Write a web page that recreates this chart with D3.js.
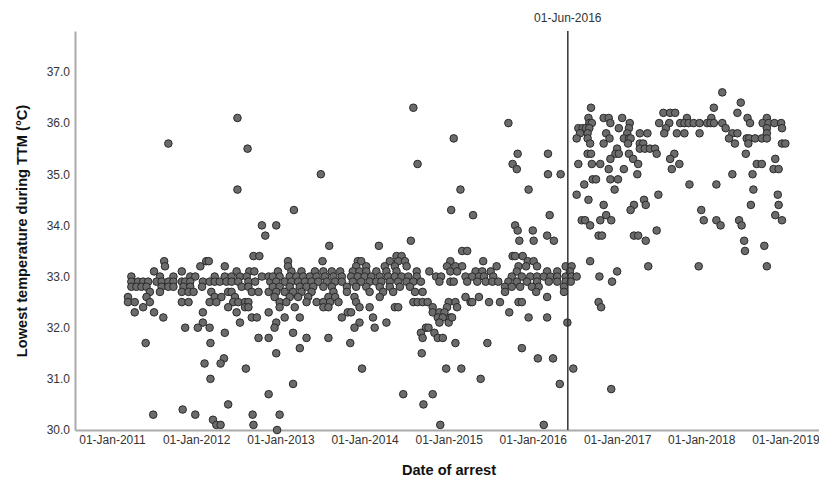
<!DOCTYPE html>
<html>
<head>
<meta charset="utf-8">
<script src="https://cdn.jsdelivr.net/npm/d3@7/dist/d3.min.js"></script>
<style>
  body { margin: 0; background: #fff; }
  svg { display: block; font-family: "Liberation Sans", Arial, sans-serif; }
  .tick-label { fill: #333; font-size: 12px; }
  .axis-title { fill: #111; font-size: 14.6px; font-weight: bold; }
</style>
</head>
<body>
<svg id="chart" width="819" height="480"></svg>
<script>
// each row: [lowest temperature °C, [dates of arrest as decimal years]]
var arrests2011to2012 = [
  [36.1, [2012.49]],
  [35.6, [2011.67]],
  [35.5, [2012.61]],
  [34.7, [2012.49]],
  [34.0, [2012.78]],
  [33.8, [2012.82]],
  [33.4, [2012.68, 2012.75]],
  [33.3, [2011.62, 2012.12, 2012.15]],
  [33.2, [2011.63, 2012.05, 2012.34]],
  [33.1, [2011.50, 2011.83, 2012.48, 2012.63, 2012.69]],
  [33.0, [2011.23, 2011.57, 2011.73, 2011.93, 2011.99, 2012.22, 2012.34, 2012.42, 2012.52, 2012.60, 2012.78, 2012.86]],
  [32.9, [2011.23, 2011.31, 2011.37, 2011.43, 2011.53, 2011.59, 2011.67, 2011.73, 2011.83, 2011.87, 2011.93, 2012.08, 2012.16, 2012.22, 2012.28, 2012.36, 2012.42, 2012.50, 2012.62, 2012.70, 2012.88]],
  [32.8, [2011.23, 2011.29, 2011.35, 2011.41, 2011.59, 2011.67, 2011.73, 2011.85, 2011.93, 2012.07, 2012.54, 2012.62]],
  [32.7, [2011.45, 2011.57, 2011.83, 2011.91, 2011.97, 2012.18, 2012.38, 2012.42, 2012.66, 2012.74, 2012.86]],
  [32.6, [2011.19, 2011.41, 2012.22, 2012.30, 2012.46]],
  [32.5, [2011.19, 2011.27, 2011.45, 2011.83, 2011.91, 2012.16, 2012.24, 2012.44, 2012.50, 2012.58, 2012.62]],
  [32.4, [2011.37, 2012.38, 2012.58, 2012.62]],
  [32.3, [2011.27, 2011.50, 2012.08, 2012.48, 2012.86]],
  [32.2, [2011.61, 2012.66, 2012.72]],
  [32.1, [2012.08, 2012.52]],
  [32.0, [2011.87, 2012.02, 2012.16]],
  [31.9, [2012.34]],
  [31.8, [2012.74, 2012.86]],
  [31.7, [2011.40, 2012.17]],
  [31.4, [2012.33]],
  [31.3, [2012.10, 2012.29]],
  [31.2, [2012.59]],
  [31.0, [2012.17]],
  [30.7, [2012.86]],
  [30.5, [2012.38]],
  [30.4, [2011.84]],
  [30.3, [2011.49, 2011.99, 2012.67]],
  [30.2, [2012.20]],
  [30.1, [2012.24, 2012.29, 2012.68]]
];

var arrests2013to2014 = [
  [36.3, [2014.58]],
  [35.2, [2014.63]],
  [35.0, [2013.48]],
  [34.3, [2013.16, 2015.03]],
  [34.0, [2012.95]],
  [33.7, [2014.55]],
  [33.6, [2013.58, 2014.17]],
  [33.4, [2014.38, 2014.44]],
  [33.3, [2013.09, 2013.50, 2013.92, 2013.96, 2014.30, 2014.40, 2014.48, 2015.02]],
  [33.2, [2013.09, 2013.90, 2014.02, 2014.24, 2014.36, 2014.50, 2014.98]],
  [33.1, [2012.97, 2013.13, 2013.25, 2013.41, 2013.51, 2013.61, 2013.71, 2013.86, 2013.94, 2014.02, 2014.14, 2014.26, 2014.38, 2014.62, 2014.77, 2015.02]],
  [33.0, [2012.91, 2012.99, 2013.11, 2013.19, 2013.27, 2013.35, 2013.43, 2013.53, 2013.63, 2013.73, 2013.84, 2013.92, 2014.00, 2014.08, 2014.18, 2014.28, 2014.36, 2014.44, 2014.52, 2014.62, 2014.85, 2014.91]],
  [32.9, [2012.95, 2013.05, 2013.13, 2013.21, 2013.29, 2013.37, 2013.45, 2013.55, 2013.65, 2013.73, 2013.86, 2013.96, 2014.06, 2014.14, 2014.20, 2014.30, 2014.40, 2014.50, 2014.58, 2014.67, 2014.89, 2015.02]],
  [32.8, [2012.91, 2012.99, 2013.11, 2013.23, 2013.31, 2013.39, 2013.51, 2013.61, 2013.79, 2013.90, 2014.02, 2014.18, 2014.30, 2014.42, 2014.54]],
  [32.7, [2012.95, 2013.05, 2013.15, 2013.25, 2013.37, 2013.63, 2013.79, 2014.06, 2014.22, 2014.34, 2014.60, 2014.69]],
  [32.6, [2012.93, 2013.11, 2013.21, 2013.33, 2013.57, 2013.65, 2013.88, 2014.18]],
  [32.5, [2012.99, 2013.07, 2013.31, 2013.43, 2013.51, 2013.59, 2013.69, 2013.90, 2014.58, 2014.63, 2014.69, 2014.75, 2015.00]],
  [32.4, [2012.99, 2013.17, 2013.51, 2013.57, 2013.94, 2014.06, 2014.36, 2014.40, 2014.81, 2014.98]],
  [32.3, [2013.80, 2013.84, 2014.81, 2014.89, 2014.95]],
  [32.2, [2013.05, 2013.23, 2013.73, 2014.10, 2014.87, 2014.93, 2015.02]],
  [32.1, [2012.95, 2013.94, 2014.26, 2014.89, 2015.00]],
  [32.0, [2012.93, 2013.88, 2014.12, 2014.73, 2014.76]],
  [31.9, [2013.15, 2014.67, 2014.83]],
  [31.8, [2013.31, 2013.57, 2014.69, 2014.87, 2014.93]],
  [31.7, [2013.83]],
  [31.6, [2013.23]],
  [31.5, [2012.95, 2014.68]],
  [31.2, [2013.97, 2014.97]],
  [30.9, [2013.15]],
  [30.7, [2014.46, 2014.81]],
  [30.5, [2014.70]],
  [30.3, [2012.99]],
  [30.1, [2014.90]],
  [30.0, [2012.96]]
];

var arrests2015to2016 = [
  [36.0, [2015.71]],
  [35.7, [2015.06]],
  [35.4, [2015.82, 2016.18]],
  [35.2, [2015.76]],
  [35.1, [2015.81]],
  [35.0, [2016.18, 2016.33]],
  [34.7, [2015.14, 2015.95]],
  [34.2, [2015.29, 2016.20]],
  [34.0, [2015.79]],
  [33.9, [2015.82, 2016.00]],
  [33.8, [2016.17]],
  [33.7, [2015.84, 2016.01, 2016.25]],
  [33.5, [2015.16, 2015.22]],
  [33.4, [2015.76, 2015.79, 2015.88]],
  [33.3, [2015.41, 2015.94, 2016.01]],
  [33.2, [2015.08, 2015.16, 2015.57, 2015.83, 2015.92, 2016.05, 2016.39]],
  [33.1, [2015.10, 2015.32, 2015.40, 2015.50, 2015.81, 2016.17, 2016.29]],
  [33.0, [2015.20, 2015.28, 2015.36, 2015.42, 2015.53, 2015.75, 2015.87, 2015.97, 2016.05, 2016.13, 2016.21, 2016.29, 2016.39]],
  [32.9, [2015.06, 2015.22, 2015.34, 2015.44, 2015.52, 2015.59, 2015.71, 2015.81, 2015.93, 2016.05, 2016.19, 2016.29, 2016.39]],
  [32.8, [2015.67, 2015.75, 2015.85, 2015.99, 2016.07, 2016.37]],
  [32.7, [2015.67, 2016.04, 2016.37]],
  [32.6, [2015.20, 2015.36, 2016.17]],
  [32.5, [2015.08, 2015.26, 2015.28, 2015.48, 2015.61, 2015.83, 2015.87]],
  [32.4, [2015.10]],
  [32.3, [2015.72]],
  [32.2, [2015.04, 2015.95, 2016.17]],
  [32.1, [2016.41]],
  [31.7, [2015.08, 2015.46]],
  [31.6, [2015.87]],
  [31.4, [2016.06, 2016.24]],
  [31.2, [2015.15]],
  [31.0, [2015.38]],
  [30.9, [2016.32]],
  [30.1, [2016.13]]
];

var arrestsFromJun2016 = [
  [36.6, [2018.25]],
  [36.4, [2018.47]],
  [36.3, [2016.69, 2018.15]],
  [36.2, [2017.55, 2017.63, 2017.69, 2018.43]],
  [36.1, [2016.66, 2016.84, 2016.90, 2017.06, 2017.83, 2018.12, 2018.55, 2018.78]],
  [36.0, [2016.67, 2016.70, 2016.92, 2017.15, 2017.50, 2017.62, 2017.75, 2017.80, 2017.85, 2017.91, 2017.98, 2018.07, 2018.11, 2018.15, 2018.25, 2018.58, 2018.73, 2018.80, 2018.87, 2018.95]],
  [35.9, [2016.54, 2016.59, 2016.63, 2016.67, 2017.02, 2017.14, 2017.58, 2018.29, 2018.78, 2018.96]],
  [35.8, [2016.56, 2016.65, 2016.87, 2017.12, 2017.27, 2017.36, 2017.56, 2017.71, 2017.80, 2017.98, 2018.37, 2018.43, 2018.78]],
  [35.7, [2016.52, 2016.65, 2016.91, 2017.08, 2017.14, 2017.16, 2018.33, 2018.54, 2018.57, 2018.64, 2018.72, 2018.78]],
  [35.6, [2016.68, 2016.84, 2017.13, 2017.27, 2017.31, 2018.40, 2018.56, 2018.96, 2019.00]],
  [35.5, [2017.00, 2017.27, 2017.33, 2017.39, 2017.45]],
  [35.4, [2016.65, 2016.69, 2016.98, 2017.02, 2017.14, 2017.47, 2017.68, 2018.53]],
  [35.3, [2016.92, 2017.19, 2017.63, 2018.88]],
  [35.2, [2016.54, 2016.70, 2016.80, 2017.25, 2017.74, 2018.66, 2018.72]],
  [35.1, [2016.90, 2017.08, 2017.65, 2018.86, 2018.92]],
  [35.0, [2017.24, 2018.37, 2018.61]],
  [34.9, [2016.71, 2016.75, 2016.92, 2017.01]],
  [34.8, [2016.61, 2017.86, 2018.18]],
  [34.7, [2016.97, 2018.62]],
  [34.6, [2016.52, 2017.49, 2018.91]],
  [34.5, [2016.66, 2017.32]],
  [34.4, [2016.84, 2017.20, 2017.34, 2018.59, 2018.92]],
  [34.3, [2017.16, 2018.00]],
  [34.2, [2016.87, 2018.88]],
  [34.1, [2016.58, 2016.62, 2016.80, 2016.93, 2018.03, 2018.18, 2018.45, 2018.96]],
  [34.0, [2016.68, 2018.23, 2018.48]],
  [33.9, [2017.47]],
  [33.8, [2016.78, 2016.82, 2017.20, 2017.25]],
  [33.7, [2017.34, 2018.51]],
  [33.6, [2018.75]],
  [33.5, [2018.52]],
  [33.3, [2016.68]],
  [33.2, [2016.46, 2017.37, 2017.97, 2018.78]],
  [33.1, [2016.44, 2017.00]],
  [33.0, [2016.46, 2016.52, 2016.79]],
  [32.9, [2016.45, 2016.94]],
  [32.5, [2016.78]],
  [32.4, [2016.81]],
  [31.2, [2016.48]],
  [30.8, [2016.93]]
];

var xTickYears = [2011, 2012, 2013, 2014, 2015, 2016, 2017, 2018, 2019];
var yTicks = [30, 31, 32, 33, 34, 35, 36, 37];
var changeDate = "2016-06-01";
var xDomainYears = [2010.56, 2019.40];
var yDomain = [30, 37.8];

(function(){
  function yearToDate(y) {
    var y0 = Math.floor(y);
    var a = Date.UTC(y0, 0, 1), b = Date.UTC(y0 + 1, 0, 1);
    return new Date(a + (y - y0) * (b - a));
  }

  var points = [];
  [arrests2011to2012, arrests2013to2014, arrests2015to2016, arrestsFromJun2016].forEach(function(rows){
    rows.forEach(function(r){
      r[1].forEach(function(yr){ points.push({ date: yearToDate(yr), temp: r[0] }); });
    });
  });

  var svg = d3.select('#chart');
  var mLeft = 75, mRight = 819, mTop = 31, mBottom = 430;

  var x = d3.scaleUtc().domain(xDomainYears.map(yearToDate)).range([mLeft, mRight]);
  var y = d3.scaleLinear().domain(yDomain).range([mBottom, mTop]);
  var fmtDate = d3.utcFormat('%d-%b-%Y');
  var parseDate = d3.utcParse('%Y-%m-%d');

  // axes
  var xAxis = d3.axisBottom(x)
    .tickValues(xTickYears.map(function(v){ return new Date(Date.UTC(v, 0, 1)); }))
    .tickFormat(fmtDate)
    .tickSize(0).tickPadding(5);
  var yAxis = d3.axisLeft(y).tickValues(yTicks).tickFormat(d3.format('.1f')).tickSize(0).tickPadding(5);

  var gx = svg.append('g').attr('transform', 'translate(0,' + mBottom + ')').call(xAxis);
  var gy = svg.append('g').attr('transform', 'translate(' + mLeft + ',0)').call(yAxis);
  [gx, gy].forEach(function(g){
    g.attr('font-family', null).attr('font-size', null);
    g.select('.domain').attr('stroke', '#aaa').attr('stroke-width', 2);
    g.selectAll('.tick text').attr('class', 'tick-label');
  });

  // points
  svg.append('g').selectAll('circle').data(points).enter().append('circle')
    .attr('cx', function(d){ return x(d.date); })
    .attr('cy', function(d){ return y(d.temp); })
    .attr('r', 3.8)
    .attr('fill', '#6b6b6b')
    .attr('stroke', '#2a2a2a')
    .attr('stroke-width', 1);

  // reference line at the protocol change
  var cx = x(parseDate(changeDate));
  svg.append('line').attr('x1', cx).attr('x2', cx).attr('y1', mTop).attr('y2', mBottom)
    .attr('stroke', '#333').attr('stroke-width', 1.5);
  svg.append('text').attr('class', 'tick-label').attr('x', cx).attr('y', 22)
    .attr('text-anchor', 'middle').text(fmtDate(parseDate(changeDate)));

  // titles
  svg.append('text').attr('class', 'axis-title').attr('x', 449).attr('y', 475)
    .attr('text-anchor', 'middle').text('Date of arrest');
  svg.append('text').attr('class', 'axis-title')
    .attr('transform', 'translate(27,231) rotate(-90)')
    .attr('text-anchor', 'middle').text('Lowest temperature during TTM (°C)');
})();
</script>
</body>
</html>
